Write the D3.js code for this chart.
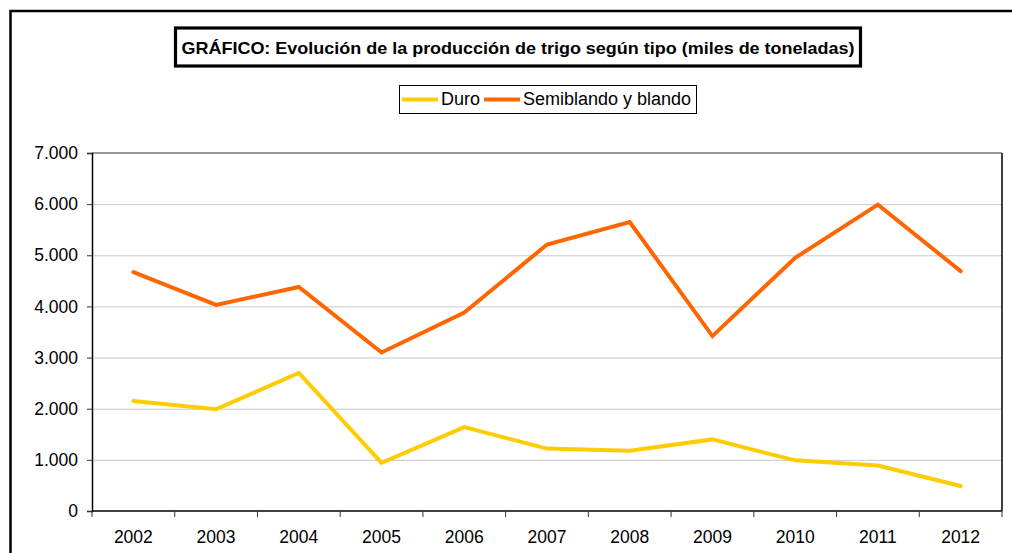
<!DOCTYPE html>
<html>
<head>
<meta charset="utf-8">
<script src="https://cdn.jsdelivr.net/npm/d3@7"></script>
<style>
  body { margin: 0; background: #fff; }
  text { font-family: "Liberation Sans", Arial, sans-serif; fill: #000; }
</style>
</head>
<body>
<div id="graphDiv"></div>
<script>
// data (miles de toneladas)
var years = ["2002","2003","2004","2005","2006","2007","2008","2009","2010","2011","2012"];
var duro = [2150, 1990, 2700, 940, 1640, 1220, 1180, 1400, 990, 890, 490];
var semiblando = [4670, 4030, 4380, 3100, 3880, 5210, 5650, 3420, 4950, 5990, 4690];
var seriesNames = ["Duro", "Semiblando y blando"];
var seriesColors = ["#FFCC00", "#FF6600"];
var yTicks = [0, 1000, 2000, 3000, 4000, 5000, 6000, 7000];
var titleText = "GRÁFICO: Evolución de la producción de trigo según tipo (miles de toneladas)";

var W = 1012, H = 553;
var plot = {left: 92, right: 1002, top: 153, bottom: 511};

var svg = d3.select("#graphDiv")
  .append("svg")
  .attr("width", W)
  .attr("height", H);

svg.append("rect").attr("width", W).attr("height", H).attr("fill", "#fff");

// outer frame (runs off the right and bottom of the picture)
svg.append("rect")
  .attr("x", 10.5).attr("y", 11)
  .attr("width", 1010).attr("height", 560)
  .attr("fill", "none").attr("stroke", "#000").attr("stroke-width", 2.5);

// title box
svg.append("rect")
  .attr("x", 175.5).attr("y", 28)
  .attr("width", 685).attr("height", 38)
  .attr("fill", "#fff").attr("stroke", "#000").attr("stroke-width", 3.2);
svg.append("text")
  .attr("x", 518).attr("y", 53.5)
  .attr("text-anchor", "middle")
  .style("font-size", "17px").style("font-weight", "bold")
  .attr("textLength", 673).attr("lengthAdjust", "spacingAndGlyphs")
  .text(titleText);

// scales
var x = d3.scaleBand().domain(years).range([plot.left, plot.right]).padding(0);
var y = d3.scaleLinear().domain([0, 7000]).range([plot.bottom, plot.top]);

var fmt = d3.formatLocale({decimal: ",", thousands: ".", grouping: [3], currency: ["", ""]}).format(",d");

// gridlines
svg.append("g")
  .selectAll("line")
  .data(yTicks.filter(function(d) { return d > 0 && d < 7000; }))
  .enter().append("line")
  .attr("x1", plot.left).attr("x2", plot.right)
  .attr("y1", function(d) { return y(d) + 0.5; })
  .attr("y2", function(d) { return y(d) + 0.5; })
  .attr("stroke", "#c8c8c8").attr("stroke-width", 1);

// plot area border: grey top, black right
svg.append("line")
  .attr("x1", plot.left).attr("x2", plot.right)
  .attr("y1", plot.top).attr("y2", plot.top)
  .attr("stroke", "#777").attr("stroke-width", 1.5);
svg.append("line")
  .attr("x1", plot.right).attr("x2", plot.right)
  .attr("y1", plot.top).attr("y2", plot.bottom)
  .attr("stroke", "#000").attr("stroke-width", 1.5);

// Y axis
var yAxis = svg.append("g")
  .attr("transform", "translate(" + plot.left + ",0)")
  .call(d3.axisLeft(y).tickValues(yTicks).tickSize(5).tickPadding(9).tickFormat(fmt));
yAxis.select(".domain").attr("stroke", "#000").attr("stroke-width", 1.5);
yAxis.selectAll(".tick line").attr("stroke", "#333");
yAxis.selectAll("text")
  .style("font-family", "'Liberation Sans', Arial, sans-serif")
  .style("font-size", "17.5px").attr("fill", "#000");

// X axis: ticks at category edges, labels centred
var xEdges = years.map(function(d) { return x(d); }).concat([plot.right]);
var xAxis = svg.append("g");
xAxis.append("line")
  .attr("x1", plot.left).attr("x2", plot.right)
  .attr("y1", plot.bottom).attr("y2", plot.bottom)
  .attr("stroke", "#000").attr("stroke-width", 1.5);
xAxis.selectAll(".edge")
  .data(xEdges)
  .enter().append("line")
  .attr("class", "edge")
  .attr("x1", function(d) { return d; }).attr("x2", function(d) { return d; })
  .attr("y1", plot.bottom).attr("y2", plot.bottom + 6)
  .attr("stroke", "#333").attr("stroke-width", 1);
xAxis.selectAll(".lbl")
  .data(years)
  .enter().append("text")
  .attr("class", "lbl")
  .attr("x", function(d) { return x(d) + x.bandwidth() / 2; })
  .attr("y", 543)
  .attr("text-anchor", "middle")
  .style("font-size", "17.5px")
  .text(function(d) { return d; });

// lines
var line = d3.line()
  .x(function(d, i) { return x(years[i]) + x.bandwidth() / 2; })
  .y(function(d) { return y(d); });

[duro, semiblando].forEach(function(vals, k) {
  svg.append("path")
    .datum(vals)
    .attr("d", line)
    .attr("fill", "none")
    .attr("stroke", seriesColors[k])
    .attr("stroke-width", 4)
    .attr("stroke-linejoin", "miter")
    .attr("stroke-linecap", "round");
});

// legend
var leg = svg.append("g");
leg.append("rect")
  .attr("x", 399.5).attr("y", 85.5)
  .attr("width", 297).attr("height", 28)
  .attr("fill", "#fff").attr("stroke", "#000").attr("stroke-width", 1);
var legX = [402, 484];
seriesNames.forEach(function(name, k) {
  leg.append("line")
    .attr("x1", legX[k]).attr("x2", legX[k] + 36)
    .attr("y1", 99.5).attr("y2", 99.5)
    .attr("stroke", seriesColors[k]).attr("stroke-width", 4);
  leg.append("text")
    .attr("x", legX[k] + 39).attr("y", 105)
    .style("font-size", "18px")
    .text(name);
});
</script>
</body>
</html>
